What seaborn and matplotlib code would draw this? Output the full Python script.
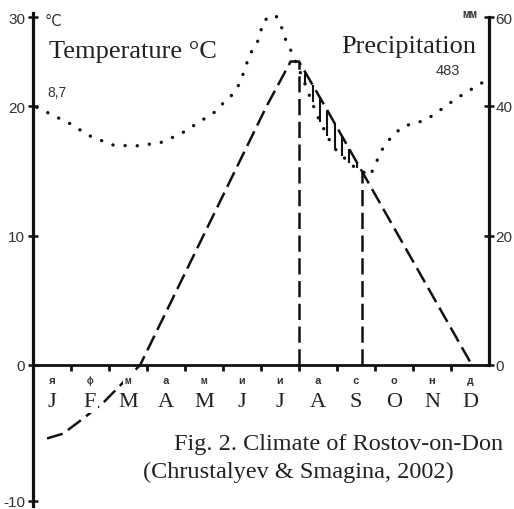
import numpy as np
import matplotlib
matplotlib.use('Agg')
import matplotlib.pyplot as plt
import seaborn as sns

# ---- data ----
months_en = ['J', 'F', 'M', 'A', 'M', 'J', 'J', 'A', 'S', 'O', 'N', 'D']
months_ru = ['я', 'ф', 'м', 'а', 'м', 'и', 'и', 'а', 'с', 'о', 'н', 'д']

# temperature curve (month position, deg C)
temp_x = [0.37, 0.79, 1.29, 1.84, 2.82, 6.15, 6.78, 7.00, 7.68, 11.55]
temp_t = [-5.4, -5.05, -4.0, -2.8, 0.0, 20.0, 25.0, 25.0, 20.0, 0.0]

# precipitation curve (month position, mm)
prec_x = [0.10, 0.55, 1.00, 1.45, 2.08, 2.66, 3.34, 3.89, 4.34, 4.82, 5.03,
          5.24, 5.45, 5.71, 5.89, 6.08, 6.39, 6.55, 6.66, 6.79, 7.13, 7.47,
          7.89, 8.40, 8.87, 9.18, 9.45, 9.76, 10.08, 10.32, 10.61, 10.89,
          11.18, 11.58, 11.89]
prec_mm = [39.8, 38.5, 37.2, 35.5, 34.0, 33.8, 34.3, 35.7, 37.4, 39.2, 40.9,
           42.5, 45.2, 51.7, 53.9, 59.3, 60.4, 57.5, 54.6, 52.4, 45.6, 38.6,
           33.7, 30.8, 29.2, 33.2, 35.4, 36.9, 37.4, 37.8, 38.9, 40.2,
           41.9, 44.0, 45.6]

drought_x = [7.0, 8.66]      # start / end of dry period
mean_temp = '8,7'
annual_prec = '483'

temp_ticks = [-10, 0, 10, 20, 30]
prec_ticks = [0, 20, 40, 60]

# ---- style ----
sns.set_theme(style='white')
plt.rcParams['font.family'] = ['Liberation Serif', 'DejaVu Serif']

# the original axis is squeezed above 20 C (40 mm) and a bit stretched below 0
def fwd(t):
    t = np.asarray(t, dtype=float)
    return np.where(t < 0, t * 1.05, np.where(t > 20, 20 + (t - 20) * 0.687, t))

def inv(u):
    u = np.asarray(u, dtype=float)
    return np.where(u < 0, u / 1.05, np.where(u > 20, 20 + (u - 20) / 0.687, u))

def fwd_mm(p):
    return 2 * fwd(np.asarray(p, dtype=float) / 2)

def inv_mm(q):
    return 2 * inv(np.asarray(q, dtype=float) / 2)

W, H = 514, 510
lo, hi = -10.4, 30.4
px = 12.95                                   # pixels per degree (0..20)
y0 = 366                                     # pixel row of the zero line
top_px = y0 - float(fwd(hi)) * px
bot_px = y0 - float(fwd(lo)) * px

fig = plt.figure(figsize=(W / 100, H / 100), dpi=100)
ax = fig.add_axes([33 / W, 1 - bot_px / H, 456 / W, (bot_px - top_px) / H])
ax.set_yscale('function', functions=(fwd, inv))
ax.set_ylim(lo, hi)
ax2 = ax.twinx()
ax2.set_yscale('function', functions=(fwd_mm, inv_mm))
ax2.set_ylim(2 * lo, 2 * hi)

ink = '#111111'
dash = (0, (6.5, 2.6))

# temperature - dashed
sns.lineplot(x=temp_x, y=temp_t, ax=ax, color=ink, lw=1.8, linestyle=dash,
             estimator=None, sort=False, dash_capstyle='butt', zorder=2)
# precipitation - dotted
sns.lineplot(x=prec_x, y=prec_mm, ax=ax2, color=ink, lw=2.4,
             linestyle=(0, (0.05, 3.6)), estimator=None, sort=False,
             dash_capstyle='round')

# dry period: vertical dashed borders and hatching between the curves
for xd in drought_x:
    ax.vlines(xd, 0, np.interp(xd, temp_x, temp_t), colors=ink, lw=1.8,
              linestyles=[dash])
hx = np.linspace(7.17, 8.52, 8)
ax.vlines(hx, np.interp(hx, prec_x, prec_mm) / 2, np.interp(hx, temp_x, temp_t),
          colors=ink, lw=1.5)

ax.set_xlim(0, 12)
for a in (ax, ax2):
    a.set_xlabel('')
    a.set_ylabel('')
    a.grid(False)

# spines
for s in ['top', 'right']:
    ax.spines[s].set_visible(False)
ax.spines['left'].set_linewidth(2.3)
ax.spines['left'].set_color(ink)
ax.spines['bottom'].set_position(('data', 0))
ax.spines['bottom'].set_linewidth(2.0)
ax.spines['bottom'].set_color(ink)
ax.spines['bottom'].set_zorder(3)
for s in ['top', 'left', 'bottom']:
    ax2.spines[s].set_visible(False)
ax2.spines['right'].set_linewidth(2.3)
ax2.spines['right'].set_color(ink)
ax2.spines['right'].set_bounds(0, 60)

# ticks
ax.set_xticks(range(1, 12))
ax.set_xticklabels([])
ax.tick_params(axis='x', bottom=True, direction='out', length=4.5, width=2, color=ink)
ax.set_yticks(temp_ticks)
ax.set_yticklabels([str(v) for v in temp_ticks], family='Liberation Sans',
                   fontsize=11, color='#333333')
ax.tick_params(axis='y', left=True, direction='inout', length=7, width=1.8,
               color=ink, pad=2)
ax.yaxis.set_minor_locator(matplotlib.ticker.NullLocator())
ax2.set_yticks(prec_ticks)
ax2.set_yticklabels([str(v) for v in prec_ticks], family='Liberation Sans',
                    fontsize=11, color='#333333')
ax2.tick_params(axis='y', right=True, direction='inout', length=7, width=1.8,
                color=ink, pad=1)
ax2.yaxis.set_minor_locator(matplotlib.ticker.NullLocator())

# month labels (white box hides the temperature line behind them)
box = dict(facecolor='white', edgecolor='none', pad=1)
for i, (en, ru) in enumerate(zip(months_en, months_ru)):
    ax.annotate(ru, xy=(i + 0.5, 0), xytext=(0, -10.5), textcoords='offset points',
                ha='center', va='center', fontsize=8, fontweight='bold',
                family=['Liberation Mono', 'DejaVu Sans Mono'], color='#333333',
                bbox=box, zorder=4)
    ax.annotate(en, xy=(i + 0.5, 0), xytext=(0, -26.5), textcoords='offset points',
                ha='center', va='center', fontsize=16, color='#222222',
                bbox=box, zorder=4)

# annotations
ax.annotate(mean_temp, xy=(0, 20), xytext=(10, 10), textcoords='offset points',
            ha='left', va='center', fontsize=10, family='Liberation Sans',
            color='#333333')
ax2.annotate(annual_prec, xy=(12, 40), xytext=(-30, 26), textcoords='offset points',
             ha='center', va='center', fontsize=10.5, family='Liberation Sans',
             color='#333333')

fig.text(45 / W, 1 - 21 / H, '°C', fontsize=10.5, family='DejaVu Sans',
         color='#333333', ha='left', va='center')
fig.text(462 / W, 1 - 15 / H, 'мм', fontsize=9, fontweight='bold',
         family=['Liberation Mono', 'DejaVu Sans Mono'], color='#333333',
         ha='left', va='center')
fig.text(49 / W, 1 - 52 / H, 'Temperature °C', fontsize=19, color='#222222',
         ha='left', va='center')
fig.text(341 / W, 1 - 47 / H, 'Precipitation', fontsize=19, color='#222222',
         ha='left', va='center')
fig.text(503 / W, 1 - 445 / H, 'Fig. 2. Climate of Rostov-on-Don', fontsize=17.5,
         color='#222222', ha='right', va='center')
fig.text(143 / W, 1 - 472 / H, '(Chrustalyev & Smagina, 2002)', fontsize=17.5,
         color='#222222', ha='left', va='center')

fig.savefig('out.png', dpi=100)
